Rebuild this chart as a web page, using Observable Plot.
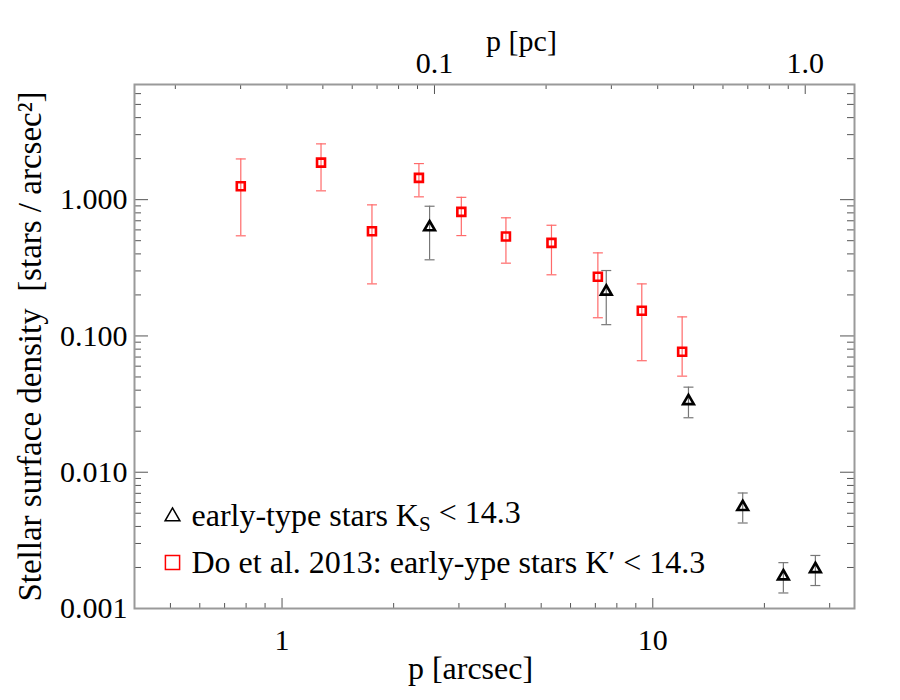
<!DOCTYPE html>
<html>
<head>
<meta charset="utf-8">
<script src="https://cdn.jsdelivr.net/npm/d3@7"></script>
<script src="https://cdn.jsdelivr.net/npm/@observablehq/plot@0.6"></script>
<style>
  html, body { margin: 0; padding: 0; background: #fff; }
  #chart { width: 900px; height: 700px; }
</style>
</head>
<body>
<div id="chart"></div>
<script>
// ---------- data ----------
// Do et al. 2013: early-type stars K' < 14.3 (red squares)
const doP   = [0.774, 1.274, 1.748, 2.34, 3.045, 4.017, 5.33, 7.11, 9.34, 12.0];
const doD   = [1.254, 1.871, 0.587, 1.445, 0.814, 0.537, 0.482, 0.272, 0.153, 0.0766];
const doHi  = [1.99, 2.567, 0.916, 1.84, 1.04, 0.736, 0.649, 0.407, 0.241, 0.138];
const doLo  = [0.543, 1.161, 0.241, 1.049, 0.545, 0.342, 0.281, 0.136, 0.0658, 0.0507];
// early-type stars Ks < 14.3 (black triangles)
const etP   = [2.50, 7.49, 12.48, 17.48, 22.5, 27.45];
const etD   = [0.628, 0.212, 0.0333, 0.00556, 0.001725, 0.00195];
const etHi  = [0.895, 0.302, 0.0421, 0.00704, 0.00217, 0.00245];
const etLo  = [0.362, 0.121, 0.0251, 0.00424, 0.0013, 0.001474];

// axes ticks
const xMajor = [1, 10];
const xMinor = [0.4, 0.5, 0.6, 0.7, 0.8, 0.9, 2, 3, 4, 5, 6, 7, 8, 9, 20, 30];
const yMajor = [0.001, 0.01, 0.1, 1];
const yMinor = [2,3,4,5,6,7,8,9].flatMap(m => [0.001, 0.01, 0.1, 1].map(d => m * d)).filter(v => v <= 7);
const pcMajor = [0.1, 1.0];
const pcMinor = [0.02,0.03,0.04,0.05,0.06,0.07,0.08,0.09,0.2,0.3,0.4,0.5,0.6,0.7,0.8,0.9];
const pcPerArcsec = 0.0388;

const legendLabels = ["early-type stars KS < 14.3", "Do et al. 2013: early-ype stars K\u2032 < 14.3"];

// ---------- build ----------
const doData = doP.map((p, i) => ({p, d: doD[i], hi: doHi[i], lo: doLo[i]}));
const etData = etP.map((p, i) => ({p, d: etD[i], hi: etHi[i], lo: etLo[i]}));

const W = 900, H = 700, mL = 134, mR = 46, mT = 84, mB = 92;
const fw = W - mL - mR, fh = H - mT - mB;
const font = "'Liberation Serif', 'Times New Roman', serif";
const tickCol = "#555";

const capSymbol = { draw(ctx) { ctx.moveTo(-5, 0); ctx.lineTo(5, 0); } };

const chart = Plot.plot({
  width: W, height: H,
  marginLeft: mL, marginRight: mR, marginTop: mT, marginBottom: mB,
  style: { fontFamily: font, background: "#fff", color: "#000" },
  x: { type: "log", domain: [0.4, 35], axis: null },
  y: { type: "log", domain: [0.001, 7], axis: null },
  marks: [
    // ticks: bottom (inward)
    Plot.ruleX(xMajor, { x: d => d, insetTop: fh - 10, stroke: tickCol }),
    Plot.ruleX(xMinor, { x: d => d, insetTop: fh - 5, stroke: tickCol }),
    // top pc axis
    Plot.ruleX(pcMajor, { x: d => d / pcPerArcsec, insetBottom: fh - 10, stroke: tickCol }),
    Plot.ruleX(pcMinor, { x: d => d / pcPerArcsec, insetBottom: fh - 5, stroke: tickCol }),
    // left / right ticks
    Plot.ruleY(yMajor, { y: d => d, insetRight: fw - 14, stroke: tickCol }),
    Plot.ruleY(yMinor, { y: d => d, insetRight: fw - 7, stroke: tickCol }),
    Plot.ruleY(yMajor, { y: d => d, insetLeft: fw - 14, stroke: tickCol }),
    Plot.ruleY(yMinor, { y: d => d, insetLeft: fw - 7, stroke: tickCol }),
    Plot.frame({ stroke: "#9a9a9a", strokeWidth: 2 }),

    // tick labels
    Plot.text(xMajor, { x: d => d, frameAnchor: "bottom", lineAnchor: "middle", dy: 32, text: d => String(d), fontSize: 30 }),
    Plot.text(yMajor, { y: d => d, frameAnchor: "left", lineAnchor: "middle", dx: -7, textAnchor: "end", text: d => d3.format(".3f")(d), fontSize: 30 }),
    Plot.text(pcMajor, { x: d => d / pcPerArcsec, frameAnchor: "top", lineAnchor: "middle", dy: -21, text: d => d.toFixed(1), fontSize: 30 }),

    // axis titles
    Plot.text(["p [arcsec]"], { frameAnchor: "bottom", lineAnchor: "middle", textAnchor: "middle", dx: -24, dy: 60, fontSize: 32 }),
    Plot.text(["p [pc]"], { frameAnchor: "top", lineAnchor: "middle", textAnchor: "middle", dx: 27, dy: -43, fontSize: 30 }),
    Plot.text(["Stellar surface density  [stars / arcsec\u00B2]"], { frameAnchor: "left", lineAnchor: "middle", textAnchor: "middle", dx: -104, rotate: -90, fontSize: 33 }),

    // Do et al. error bars
    Plot.ruleX(doData, { x: "p", y1: "lo", y2: "hi", stroke: "#ff6a6a", strokeWidth: 1.2 }),
    Plot.dot(doData, { x: "p", y: "hi", symbol: capSymbol, stroke: "#ff6a6a", strokeWidth: 1.2 }),
    Plot.dot(doData, { x: "p", y: "lo", symbol: capSymbol, stroke: "#ff6a6a", strokeWidth: 1.2 }),
    // early-type error bars
    Plot.ruleX(etData, { x: "p", y1: "lo", y2: "hi", stroke: "#777", strokeWidth: 1.2 }),
    Plot.dot(etData, { x: "p", y: "hi", symbol: capSymbol, stroke: "#777", strokeWidth: 1.2 }),
    Plot.dot(etData, { x: "p", y: "lo", symbol: capSymbol, stroke: "#777", strokeWidth: 1.2 }),

    // markers
    Plot.dot(doData, { x: "p", y: "d", symbol: "square", r: 4.5, stroke: "#ff0000", strokeWidth: 2.6, fill: "none" }),
    Plot.dot(etData, { x: "p", y: "d", symbol: "triangle", r: 4, stroke: "#000", strokeWidth: 2.6, fill: "none" }),

    // legend
    Plot.dot([0], { frameAnchor: "bottom-left", dx: 38, dy: -92, symbol: "triangle", r: 5.5, stroke: "#000", strokeWidth: 1.5, fill: "none" }),
    Plot.dot([0], { frameAnchor: "bottom-left", dx: 38, dy: -46, symbol: "square", r: 8, stroke: "#ff0000", strokeWidth: 1.5, fill: "none" }),
    Plot.text([legendLabels[0]], { frameAnchor: "bottom-left", lineAnchor: "middle", dx: 57, dy: -93, textAnchor: "start", fontSize: 32 }),
    Plot.text([legendLabels[1]], { frameAnchor: "bottom-left", lineAnchor: "middle", dx: 57, dy: -46, textAnchor: "start", fontSize: 32 })
  ]
});

// subscript S in the first legend entry
d3.select(chart).selectAll("text").each(function () {
  if (this.textContent === legendLabels[0]) {
    const t = d3.select(this);
    t.text(null);
    t.append("tspan").text("early-type stars K");
    t.append("tspan").attr("dy", "0.25em").attr("font-size", "21").text("S");
    t.append("tspan").attr("dy", "-0.25em").text(" < 14.3");
  }
});

document.getElementById("chart").appendChild(chart);
</script>
</body>
</html>
